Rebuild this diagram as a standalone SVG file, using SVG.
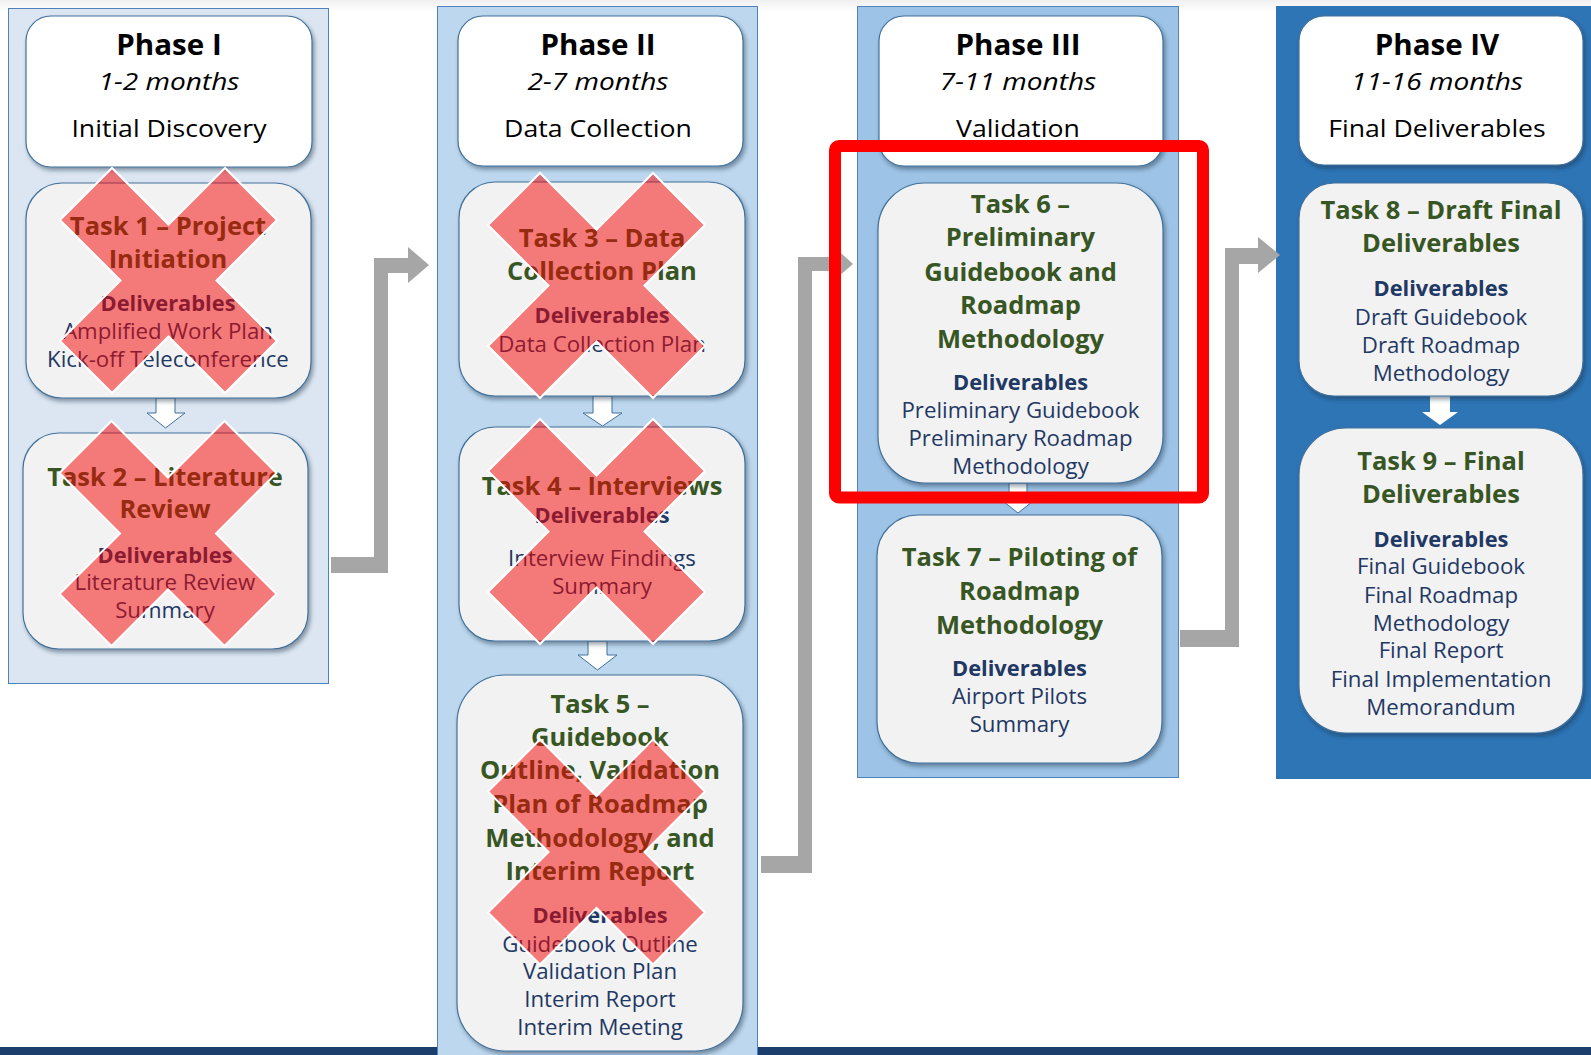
<svg xmlns="http://www.w3.org/2000/svg" width="1591" height="1055" viewBox="0 0 1591 1055">
<defs>
<filter id="sh" x="-10%" y="-10%" width="125%" height="125%">
<feDropShadow dx="2" dy="3" stdDeviation="2" flood-color="#1a2a40" flood-opacity="0.45"/>
</filter>
<linearGradient id="topfade" x1="0" y1="0" x2="0" y2="1">
<stop offset="0" stop-color="#f0f0f0"/>
<stop offset="1" stop-color="#ffffff"/>
</linearGradient>
<path id="xmark" d="M-108.5,-60.5 L-56.5,-112.5 L0,-56 L56.5,-112.5 L108.5,-60.5 L48,0 L108.5,60.5 L56.5,112.5 L0,56 L-56.5,112.5 L-108.5,60.5 L-48,0 Z"/>
</defs>
<style>
text{font-family:"Open Sans",Lato,"Liberation Sans",sans-serif;text-anchor:middle;transform-box:fill-box;transform-origin:center}
.col{stroke:#4f81bd;stroke-width:1}
.hdr{fill:#fff;stroke:#41719c;stroke-width:1.2;filter:url(#sh)}
.task{fill:#f2f2f2;stroke:#41719c;stroke-width:1.2;filter:url(#sh)}
.ph{font-weight:bold;font-size:28px;fill:#000;transform:scaleX(1.055)}
.mo{font-style:italic;font-size:24px;fill:#000;transform:scaleX(1.17)}
.nm{font-size:24px;fill:#000;transform:scaleX(1.11)}
.ti{font-weight:bold;font-size:25px;fill:#375623;transform:scaleX(1.02)}
.dl{font-weight:bold;font-size:21px;fill:#1f3864;transform:scaleX(1.04)}
.it{font-size:21px;fill:#1f3864;transform:scaleX(1.06)}
.x{fill:#f60000;fill-opacity:0.5;stroke:#fff;stroke-width:2}
.conn{fill:#a6a6a6}
.darr{fill:#fff;stroke:#41719c;stroke-width:1}
</style>
<rect width="1591" height="1055" fill="#fff"/>
<rect width="1591" height="12" fill="url(#topfade)"/>
<rect x="0" y="1047" width="1591" height="8" fill="#1c3e6c"/>
<g id="phase1-col"><rect class="col" x="8.5" y="8.5" width="320" height="675" fill="#dce6f2"/></g>
<g id="phase2-col"><rect class="col" x="437.5" y="6.5" width="320" height="1050" fill="#bdd7ee"/></g>
<g id="phase3-col"><rect class="col" x="857.5" y="6.5" width="321" height="771" fill="#9dc3e6"/></g>
<g id="phase4-col"><rect x="1276" y="6" width="315" height="773" fill="#2e75b6"/></g>

<g id="connectors">
<path class="conn" d="M331,557 L374,557 L374,258 L408,258 L408,247 L429,265 L408,283 L408,273 L388,273 L388,573 L331,573 Z"/>
<path class="conn" d="M761,856 L798,856 L798,257 L832,257 L832,245 L853,264 L832,282 L832,271 L812,271 L812,873 L761,873 Z"/>
<path class="conn" d="M1180,630 L1225,630 L1225,248 L1258,248 L1258,237 L1280,255 L1258,273 L1258,264 L1239,264 L1239,647 L1180,647 Z"/>
<path class="darr" d="M156,398 H175 V413 H185 L165.5,428 L147,413 H156 Z"/>
<path class="darr" d="M593,396 H612 V413 H622 L602.5,426 L583,413 H593 Z"/>
<path class="darr" d="M588,641 H607 V655 H617 L597.5,670 L578,655 H588 Z"/>
<path class="darr" d="M1009,483 H1027 V498 H1037 L1018,513 L999,498 H1009 Z"/>
<path fill="#fff" d="M1430,396 H1450 V412 H1458 L1440,425 L1422,412 H1430 Z"/>
</g>

<g id="phase1-header">
<rect class="hdr" x="26" y="16" width="286" height="151" rx="25"/>
<text class="ph" x="169" y="55">Phase I</text>
<text class="mo" x="169" y="90">1-2 months</text>
<text class="nm" x="169" y="137">Initial Discovery</text>
</g>
<g id="phase2-header">
<rect class="hdr" x="458" y="16" width="285" height="150" rx="25"/>
<text class="ph" x="598" y="55">Phase II</text>
<text class="mo" x="598" y="90">2-7 months</text>
<text class="nm" x="598" y="137">Data Collection</text>
</g>
<g id="phase3-header">
<rect class="hdr" x="879" y="16" width="284" height="150" rx="25"/>
<text class="ph" x="1018" y="55">Phase III</text>
<text class="mo" x="1018" y="90">7-11 months</text>
<text class="nm" x="1018" y="137">Validation</text>
</g>
<g id="phase4-header">
<rect class="hdr" x="1299" y="16" width="284" height="149" rx="25"/>
<text class="ph" x="1437" y="55">Phase IV</text>
<text class="mo" x="1437" y="90">11-16 months</text>
<text class="nm" x="1437" y="137">Final Deliverables</text>
</g>

<g id="task1">
<rect class="task" x="26" y="183" width="285" height="215" rx="36"/>
<text class="ti" x="168" y="235">Task 1 – Project</text>
<text class="ti" x="168" y="268">Initiation</text>
<text class="dl" x="168" y="311">Deliverables</text>
<text class="it" x="168" y="339">Amplified Work Plan</text>
<text class="it" x="168" y="367">Kick-off Teleconference</text>
<use href="#xmark" class="x" transform="translate(168.5,280.5)"/>
</g>
<g id="task2">
<rect class="task" x="23" y="433" width="285" height="216" rx="36"/>
<text class="ti" x="165" y="486">Task 2 – Literature</text>
<text class="ti" x="165" y="518">Review</text>
<text class="dl" x="165" y="563">Deliverables</text>
<text class="it" x="165" y="590">Literature Review</text>
<text class="it" x="165" y="618">Summary</text>
<use href="#xmark" class="x" transform="translate(168,533.5)"/>
</g>
<g id="task3">
<rect class="task" x="459" y="182" width="286" height="214" rx="36"/>
<text class="ti" x="602" y="247">Task 3 – Data</text>
<text class="ti" x="602" y="280">Collection Plan</text>
<text class="dl" x="602" y="323">Deliverables</text>
<text class="it" x="602" y="352">Data Collection Plan</text>
<use href="#xmark" class="x" transform="translate(596.5,285.5)"/>
</g>
<g id="task4">
<rect class="task" x="459" y="427" width="286" height="214" rx="36"/>
<text class="ti" x="602" y="495">Task 4 – Interviews</text>
<text class="dl" x="602" y="523">Deliverables</text>
<text class="it" x="602" y="566">Interview Findings</text>
<text class="it" x="602" y="594">Summary</text>
<use href="#xmark" class="x" transform="translate(596.5,531.5)"/>
</g>
<g id="task5">
<rect class="task" x="457" y="675" width="286" height="376" rx="48"/>
<text class="ti" x="600" y="713">Task 5 –</text>
<text class="ti" x="600" y="746">Guidebook</text>
<text class="ti" x="600" y="779">Outline, Validation</text>
<text class="ti" x="600" y="813">Plan of Roadmap</text>
<text class="ti" x="600" y="847">Methodology, and</text>
<text class="ti" x="600" y="880">Interim Report</text>
<text class="dl" x="600" y="923">Deliverables</text>
<text class="it" x="600" y="952">Guidebook Outline</text>
<text class="it" x="600" y="979">Validation Plan</text>
<text class="it" x="600" y="1007">Interim Report</text>
<text class="it" x="600" y="1035">Interim Meeting</text>
<use href="#xmark" class="x" transform="translate(596.5,852)"/>
</g>
<g id="task6">
<rect class="task" x="878" y="183" width="285" height="300" rx="47"/>
<text class="ti" x="1020.5" y="213">Task 6 –</text>
<text class="ti" x="1020.5" y="246">Preliminary</text>
<text class="ti" x="1020.5" y="281">Guidebook and</text>
<text class="ti" x="1020.5" y="314">Roadmap</text>
<text class="ti" x="1020.5" y="348">Methodology</text>
<text class="dl" x="1020.5" y="390">Deliverables</text>
<text class="it" x="1020.5" y="418">Preliminary Guidebook</text>
<text class="it" x="1020.5" y="446">Preliminary Roadmap</text>
<text class="it" x="1020.5" y="474">Methodology</text>
</g>
<g id="task7">
<rect class="task" x="877" y="515" width="285" height="248" rx="41"/>
<text class="ti" x="1019.5" y="566">Task 7 – Piloting of</text>
<text class="ti" x="1019.5" y="600">Roadmap</text>
<text class="ti" x="1019.5" y="634">Methodology</text>
<text class="dl" x="1019.5" y="676">Deliverables</text>
<text class="it" x="1019.5" y="704">Airport Pilots</text>
<text class="it" x="1019.5" y="732">Summary</text>
</g>
<g id="task8">
<rect class="task" x="1299" y="183" width="284" height="213" rx="35"/>
<text class="ti" x="1441" y="219">Task 8 – Draft Final</text>
<text class="ti" x="1441" y="252">Deliverables</text>
<text class="dl" x="1441" y="296">Deliverables</text>
<text class="it" x="1441" y="325">Draft Guidebook</text>
<text class="it" x="1441" y="353">Draft Roadmap</text>
<text class="it" x="1441" y="381">Methodology</text>
</g>
<g id="task9">
<rect class="task" x="1299" y="428" width="284" height="305" rx="47"/>
<text class="ti" x="1441" y="470">Task 9 – Final</text>
<text class="ti" x="1441" y="503">Deliverables</text>
<text class="dl" x="1441" y="547">Deliverables</text>
<text class="it" x="1441" y="574">Final Guidebook</text>
<text class="it" x="1441" y="603">Final Roadmap</text>
<text class="it" x="1441" y="631">Methodology</text>
<text class="it" x="1441" y="658">Final Report</text>
<text class="it" x="1441" y="687">Final Implementation</text>
<text class="it" x="1441" y="715">Memorandum</text>
</g>
<g id="highlight">
<rect x="835" y="146" width="368" height="351.5" rx="4" fill="none" stroke="#ff0000" stroke-width="12"/>
</g>
</svg>
